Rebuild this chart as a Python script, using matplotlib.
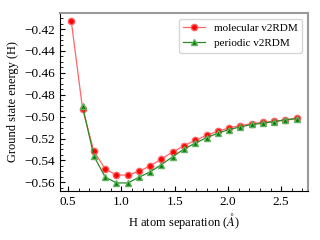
import matplotlib
matplotlib.use("Agg")
import matplotlib.pyplot as plt
import numpy as np
from matplotlib.ticker import AutoMinorLocator

plt.rcParams["font.family"] = ["Liberation Serif", "DejaVu Serif"]
plt.rcParams["mathtext.fontset"] = "stix"

# H-H separation (1.0 to 5.0 bohr in steps of 0.2, shown in angstrom)
mol_x = [0.529, 0.635, 0.741, 0.847, 0.953, 1.058, 1.164, 1.270, 1.376, 1.482, 1.588,
         1.693, 1.799, 1.905, 2.011, 2.117, 2.223, 2.328, 2.434, 2.540, 2.646]
mol_e = [-0.4127, -0.4930, -0.5316, -0.5478, -0.5534, -0.5534, -0.5501, -0.5449, -0.5387,
         -0.5323, -0.5266, -0.5217, -0.5172, -0.5133, -0.5103, -0.5082, -0.5064, -0.5052,
         -0.5043, -0.5030, -0.5015]

per_x = mol_x[1:]
per_e = [-0.4904, -0.5360, -0.5552, -0.5606, -0.5606, -0.5555, -0.5504, -0.5438, -0.5366,
         -0.5296, -0.5242, -0.5193, -0.5151, -0.5118, -0.5094, -0.5072, -0.5060, -0.5045,
         -0.5030, -0.5018]

fig = plt.figure(figsize=(3.2, 2.4), dpi=100)
ax = fig.add_axes([0.1875, 0.204, 0.775, 0.742])

ax.plot(mol_x, mol_e, "-o", color=(1, 0, 0, 0.6), linewidth=0.9,
        markersize=4.5, markerfacecolor="red", markeredgecolor="#ff6060",
        label="molecular v2RDM")
ax.plot(per_x, per_e, "-^", color="#2a8a2a", linewidth=0.9,
        markersize=4.5, markerfacecolor="green", markeredgecolor="#60b060",
        label="periodic v2RDM")

ax.set_xlabel(r"H atom separation ($\AA$)", fontsize=9, labelpad=2)
ax.set_ylabel("Ground state energy (H)", fontsize=9)
ax.set_xticks([0.5, 1.0, 1.5, 2.0, 2.5])
ax.set_yticks(np.arange(-0.56, -0.419, 0.02))
ax.xaxis.set_minor_locator(AutoMinorLocator())
ax.yaxis.set_minor_locator(AutoMinorLocator())
ax.tick_params(which="both", direction="in", labelsize=9.5)
ax.tick_params(which="major", length=3.5)
ax.tick_params(which="minor", length=2)

for s in ["top", "right"]:
    ax.spines[s].set_color("#999999")
    ax.spines[s].set_linewidth(1.5)

ax.legend(loc="upper right", fontsize=8)

fig.savefig("out.png", dpi=100)
